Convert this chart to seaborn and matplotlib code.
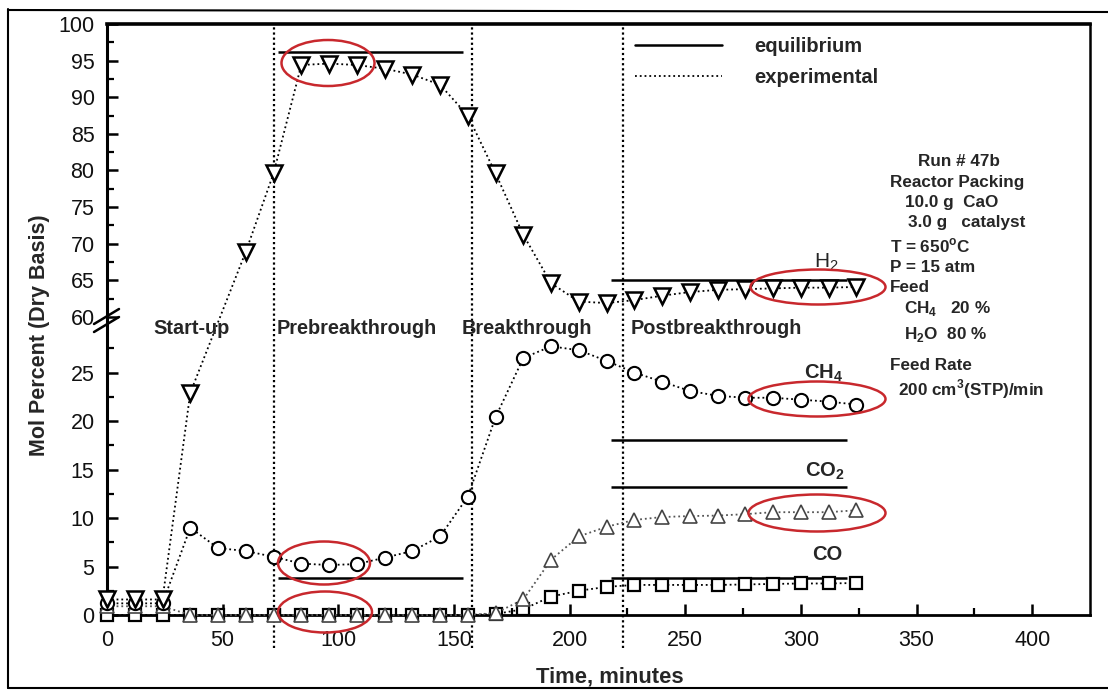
import numpy as np
import matplotlib
matplotlib.use("Agg")
import matplotlib.pyplot as plt
import seaborn as sns
from matplotlib.lines import Line2D
from matplotlib.patches import Ellipse
from matplotlib.ticker import FixedLocator

# ---------------- data ----------------
time = list(range(0, 325, 12))                      # sampling times, minutes
h2_time = [t for t in time if t != 48]              # H2 has no sample at 48 min

h2 = [1.6, 1.6, 1.6, 22.9, 68.9, 79.6, 94.4, 94.6, 94.4, 93.9, 93.1, 91.7,
      87.5, 79.6, 71.2, 64.6, 62.1, 61.9, 62.3, 62.9, 63.4, 63.7, 63.8,
      63.9, 64.0, 64.0, 64.1]
ch4 = [1.2, 1.2, 1.2, 9.0, 6.9, 6.6, 6.0, 5.3, 5.15, 5.25, 5.9, 6.6, 8.1,
       12.2, 20.4, 26.5, 27.7, 27.3, 26.2, 25.0, 24.05, 23.1, 22.6, 22.4,
       22.4, 22.2, 22.0, 21.7]
co2 = [0.9, 0.9, 0.9, 0, 0, 0, 0, 0, 0, 0, 0, 0, 0, 0, 0.2, 1.6, 5.7, 8.1,
       9.1, 9.8, 10.1, 10.2, 10.25, 10.4, 10.6, 10.6, 10.6, 10.8]
co = [0, 0, 0, 0, 0, 0, 0, 0, 0, 0, 0, 0, 0, 0, 0.1, 0.6, 1.9, 2.5, 2.9,
      3.1, 3.1, 3.1, 3.1, 3.15, 3.2, 3.25, 3.25, 3.3]

# equilibrium levels: (value, start, end)
eq_values = [96.2, 65.0, 3.8, 18.0, 13.2, 3.8]
eq_start = [74, 218, 74, 218, 218, 218]
eq_end = [154, 320, 154, 320, 320, 320]

phase_bounds = [72, 158, 223]
phase_names = ["Start-up", "Prebreakthrough", "Breakthrough", "Postbreakthrough"]

y_major = [0, 5, 10, 15, 20, 25, 60, 65, 70, 75, 80, 85, 90, 95, 100]
y_minor = [2.5, 7.5, 12.5, 17.5, 22.5, 27.5, 62.5, 67.5, 72.5, 77.5, 82.5,
           87.5, 92.5, 97.5]
x_major = [0, 50, 100, 150, 200, 250, 300, 350, 400]
x_minor = [25, 75, 125, 175, 225, 275, 325, 375]

# ---------------- style ----------------
sns.set_style("ticks")
plt.rcParams["font.family"] = ["Liberation Sans", "DejaVu Sans"]
plt.rcParams["mathtext.fontset"] = "custom"
plt.rcParams["mathtext.rm"] = "Liberation Sans"
plt.rcParams["mathtext.bf"] = "Liberation Sans:bold"

W, H = 1108, 691
fig = plt.figure(figsize=(W / 100, H / 100), dpi=100)
fig.patch.set_facecolor("white")


def fx(px):
    return px / W


def fy(py):
    return 1 - py / H


ax = fig.add_axes([fx(107), fy(615), (1090 - 107) / W, (615 - 24) / H])

# broken y axis: 0..~31 on a large scale, 60..100 compressed above it
LOW = 30.7
K = 7.325 / 9.7
EPS = 1e-3
GAP_TOP = LOW + (60 - LOW) * EPS


def forward(y):
    y = np.asarray(y, dtype=float)
    return np.where(y <= LOW, y,
                    np.where(y < 60, LOW + (y - LOW) * EPS,
                             GAP_TOP + (y - 60) * K))


def inverse(f):
    f = np.asarray(f, dtype=float)
    return np.where(f <= LOW, f,
                    np.where(f < GAP_TOP, LOW + (f - LOW) / EPS,
                             60 + (f - GAP_TOP) / K))


ax.set_yscale("function", functions=(forward, inverse))

# experimental series
common = dict(ax=ax, color="black", linestyle=":", linewidth=1.3,
              markerfacecolor="white", clip_on=False, estimator=None,
              sort=False, legend=False)
sns.lineplot(x=time, y=co, marker="s", markersize=9, markeredgecolor="black",
             markeredgewidth=1.6, zorder=4, **common)
co2_style = dict(common)
co2_style["color"] = "#555555"
sns.lineplot(x=time, y=co2, marker="^", markersize=10, markeredgecolor="#444444",
             markeredgewidth=1.2, zorder=5, **co2_style)
sns.lineplot(x=time, y=ch4, marker="o", markersize=9.5, markeredgecolor="black",
             markeredgewidth=1.5, zorder=5, **common)
sns.lineplot(x=h2_time, y=h2, marker="v", markersize=11, markeredgecolor="black",
             markeredgewidth=1.8, zorder=6, **common)

# equilibrium levels
ax.hlines(eq_values, eq_start, eq_end, colors="black", linewidth=1.8, zorder=3)

# phase boundaries
for xb in phase_bounds:
    ax.axvline(xb, ymin=-0.055, ymax=1, color="black", linestyle=(0, (1, 1.3)),
               linewidth=1.6, clip_on=False, zorder=2)

ax.set_xlim(0, 425)
ax.set_ylim(0, 100)

ax.yaxis.set_major_locator(FixedLocator(y_major))
ax.yaxis.set_minor_locator(FixedLocator(y_minor))
ax.xaxis.set_major_locator(FixedLocator(x_major))
ax.xaxis.set_minor_locator(FixedLocator(x_minor))
ax.set_yticklabels([str(v) for v in y_major])
ax.set_xticklabels([str(v) for v in x_major])

ax.tick_params(axis="both", which="major", direction="in", length=8, width=1.8,
               labelsize=15.5, color="black", labelcolor="#111111")
ax.tick_params(axis="both", which="minor", direction="in", length=5, width=1.6,
               color="black")
ax.tick_params(axis="y", which="major", pad=9)
ax.tick_params(axis="x", which="major", pad=11)

for side, lw in [("left", 2.2), ("bottom", 2.0), ("top", 2.6), ("right", 1.8)]:
    ax.spines[side].set_visible(True)
    ax.spines[side].set_linewidth(lw)
    ax.spines[side].set_color("black")

ax.set_xlabel("")
ax.set_ylabel("")

# axis break marks on the left spine
for dy in (0, 8):
    fig.add_artist(Line2D([fx(94), fx(119)], [fy(324 + dy), fy(309 + dy)],
                          color="black", linewidth=1.8))

# axis titles
fig.text(fx(610), fy(677), "Time, minutes", ha="center", va="center",
         fontsize=15.8, fontweight="bold")
fig.text(fx(40), fy(335), "Mol Percent (Dry Basis)", ha="center", va="center",
         rotation=90, fontsize=15.5, fontweight="bold")

# phase labels
for name, left in zip(phase_names, [153, 277, 462, 631]):
    fig.text(fx(left), fy(329), name, ha="left", va="center", fontsize=14.3,
             fontweight="bold")

# species labels
fig.text(fx(826), fy(262), r"H$_2$", ha="center", va="center", fontsize=15)
fig.text(fx(824), fy(373), r"CH$_\mathbf{4}$", ha="center", va="center",
         fontsize=14.5, fontweight="bold")
fig.text(fx(825), fy(471), r"CO$_\mathbf{2}$", ha="center", va="center",
         fontsize=14.5, fontweight="bold")
fig.text(fx(827), fy(555), "CO", ha="center", va="center", fontsize=14.5,
         fontweight="bold")

# legend
handles = [Line2D([], [], color="black", linewidth=1.8),
           Line2D([], [], color="black", linewidth=1.3, linestyle=":")]
leg = ax.legend(handles, ["equilibrium", "experimental"], loc="upper left",
                bbox_to_anchor=((635 - 107) / 983, (615 - 37) / 591),
                frameon=False, handlelength=4.3, handletextpad=1.6,
                labelspacing=0.6, borderpad=0, borderaxespad=0,
                prop={"weight": "bold", "size": 14.5})

# run conditions
info = [
    (918, 161, "Run # 47b"),
    (890, 183, "Reactor Packing"),
    (905, 203, "10.0 g  CaO"),
    (908, 223, "3.0 g   catalyst"),
    (890, 246, r"T = 650$^\mathbf{o}$C"),
    (890, 267, "P = 15 atm"),
    (890, 287, "Feed"),
    (904, 308, r"CH$_\mathbf{4}$   20 %"),
    (904, 335, r"H$_\mathbf{2}$O  80 %"),
    (890, 365, "Feed Rate"),
    (898, 389, r"200 cm$^\mathbf{3}$(STP)/min"),
]
for x0, y0, s in info:
    fig.text(fx(x0), fy(y0), s, ha="left", va="center", fontsize=12.3,
             fontweight="bold")

# highlighted groups of points
for cx, cy, w, h in [(328, 63, 93, 46), (324, 563, 92, 43), (325, 612, 94, 41),
                     (818, 287, 135, 35), (817, 399, 137, 35),
                     (817, 513, 137, 37)]:
    fig.add_artist(Ellipse((fx(cx), fy(cy)), w / W, h / H, fill=False,
                           edgecolor="#c8282d", linewidth=1.8,
                           transform=fig.transFigure, zorder=10))

# page frame
fig.add_artist(Line2D([fx(8), fx(8)], [fy(9), fy(688)], color="black",
                      linewidth=1.5))
fig.add_artist(Line2D([fx(8), fx(1108)], [fy(10), fy(12)], color="black",
                      linewidth=1.5))
fig.add_artist(Line2D([fx(8), fx(1108)], [fy(688), fy(688)], color="black",
                      linewidth=1.5))

fig.savefig("out.png", dpi=100)
